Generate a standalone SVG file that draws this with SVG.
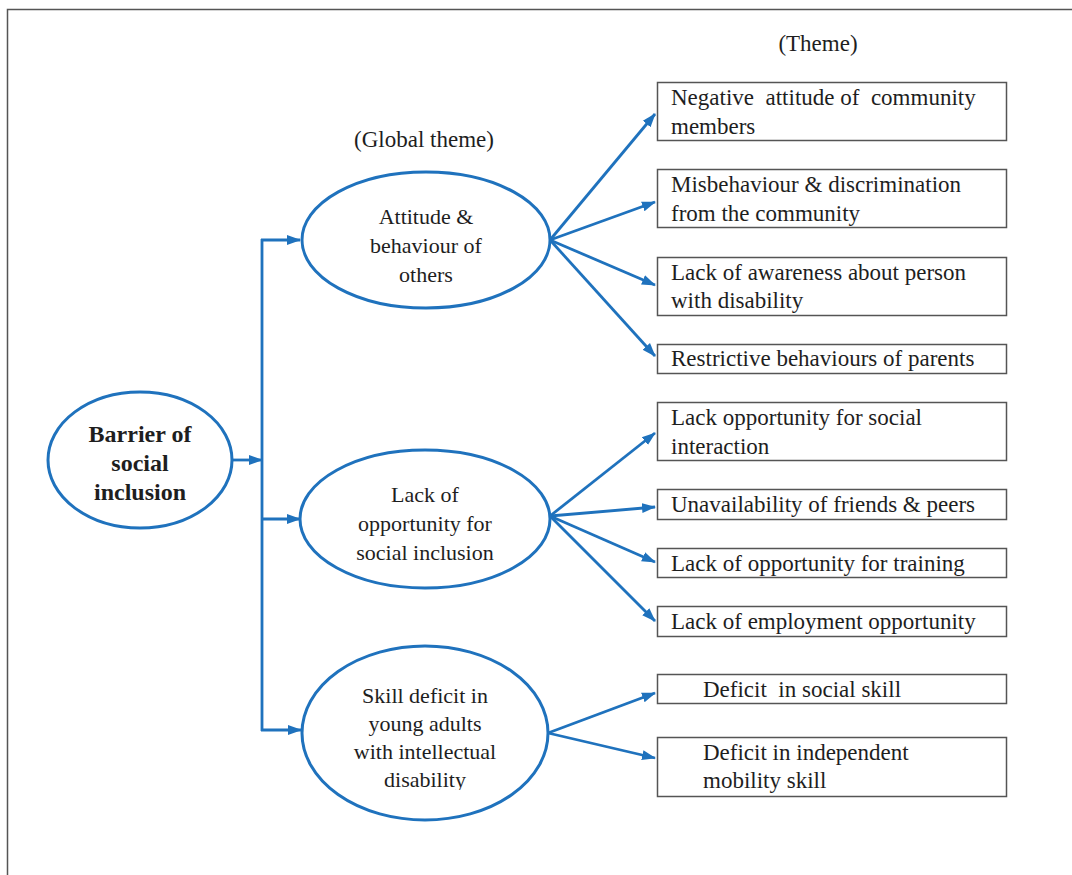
<svg xmlns="http://www.w3.org/2000/svg" width="1072" height="875" viewBox="0 0 1072 875">
<style>
.t{font-family:"Liberation Serif","Times New Roman","DejaVu Serif",serif;font-size:23px;fill:#1e1e1e}
.e{font-size:22px}
.c{text-anchor:middle}
.b{font-weight:bold;font-size:24px}
.ell{fill:#fff;stroke:#1f72bd;stroke-width:3}
.box{fill:#fff;stroke:#555;stroke-width:1.5}
.con{fill:none;stroke:#1f72bd;stroke-width:2.8}
</style>
<defs>
<marker id="ah" markerWidth="14" markerHeight="12" refX="13" refY="6" orient="auto" markerUnits="userSpaceOnUse">
<path d="M0,1 L14,6 L0,11 Z" fill="#1f72bd"/>
</marker>
<clipPath id="clip3"><rect x="300" y="640" width="260" height="150"/></clipPath>
</defs>
<rect x="0" y="0" width="1072" height="875" fill="#fff"/>
<path d="M7.5,875 V9.5 H1072" fill="none" stroke="#555" stroke-width="1.5"/>
<text class="t c" x="818" y="51">(Theme)</text>
<text class="t c" x="424" y="147">(Global theme)</text>
<g id="connectors">
<line class="con" x1="232" y1="460" x2="262" y2="460" marker-end="url(#ah)"/>
<line class="con" x1="262" y1="239" x2="262" y2="731"/>
<line class="con" x1="261" y1="240" x2="300" y2="240" marker-end="url(#ah)"/>
<line class="con" x1="261" y1="519" x2="300" y2="519" marker-end="url(#ah)"/>
<line class="con" x1="261" y1="730" x2="301" y2="730" marker-end="url(#ah)"/>
<line class="con" x1="550" y1="240" x2="655" y2="114" marker-end="url(#ah)"/>
<line class="con" x1="550" y1="240" x2="655" y2="202" marker-end="url(#ah)"/>
<line class="con" x1="550" y1="240" x2="655" y2="285" marker-end="url(#ah)"/>
<line class="con" x1="550" y1="240" x2="655" y2="356" marker-end="url(#ah)"/>
<line class="con" x1="550" y1="516" x2="655" y2="433" marker-end="url(#ah)"/>
<line class="con" x1="550" y1="516" x2="655" y2="507" marker-end="url(#ah)"/>
<line class="con" x1="550" y1="516" x2="655" y2="562" marker-end="url(#ah)"/>
<line class="con" x1="550" y1="516" x2="655" y2="621" marker-end="url(#ah)"/>
<line class="con" x1="548" y1="733" x2="655" y2="693" marker-end="url(#ah)"/>
<line class="con" x1="548" y1="733" x2="655" y2="758" marker-end="url(#ah)"/>
</g>
<g id="root">
<ellipse class="ell" cx="140" cy="460" rx="92" ry="68"/>
<text class="t c b" x="140" y="442">Barrier of</text>
<text class="t c b" x="140" y="471">social</text>
<text class="t c b" x="140" y="500">inclusion</text>
</g>
<g id="g1">
<ellipse class="ell" cx="426" cy="240" rx="124" ry="68"/>
<text class="t e c" x="426" y="224">Attitude &amp;</text>
<text class="t e c" x="426" y="253">behaviour of</text>
<text class="t e c" x="426" y="282">others</text>
</g>
<g id="g2">
<ellipse class="ell" cx="425" cy="519" rx="125" ry="69"/>
<text class="t e c" x="425" y="502">Lack of</text>
<text class="t e c" x="425" y="531">opportunity for</text>
<text class="t e c" x="425" y="560">social inclusion</text>
</g>
<g id="g3">
<ellipse class="ell" cx="425" cy="733" rx="123" ry="87"/>
<text class="t e c" x="425" y="703">Skill deficit in</text>
<text class="t e c" x="425" y="731">young adults</text>
<text class="t e c" x="425" y="759">with intellectual</text>
<text class="t e c" x="425" y="787" clip-path="url(#clip3)">disability</text>
</g>
<g id="t1">
<rect class="box" x="657.5" y="82.5" width="349" height="58"/>
<text class="t" x="671" y="105" xml:space="preserve">Negative  attitude of  community</text>
<text class="t" x="671" y="134">members</text>
</g>
<g id="t2">
<rect class="box" x="657.5" y="169.5" width="349" height="58"/>
<text class="t" x="671" y="192">Misbehaviour &amp; discrimination</text>
<text class="t" x="671" y="221">from the community</text>
</g>
<g id="t3">
<rect class="box" x="657.5" y="257.5" width="349" height="58"/>
<text class="t" x="671" y="280">Lack of awareness about person</text>
<text class="t" x="671" y="308">with disability</text>
</g>
<g id="t4">
<rect class="box" x="657.5" y="344.5" width="349" height="29"/>
<text class="t" x="671" y="366">Restrictive behaviours of parents</text>
</g>
<g id="t5">
<rect class="box" x="657.5" y="402.5" width="349" height="58"/>
<text class="t" x="671" y="425">Lack opportunity for social</text>
<text class="t" x="671" y="454">interaction</text>
</g>
<g id="t6">
<rect class="box" x="657.5" y="489.5" width="349" height="30"/>
<text class="t" x="671" y="512">Unavailability of friends &amp; peers</text>
</g>
<g id="t7">
<rect class="box" x="657.5" y="548.5" width="349" height="29"/>
<text class="t" x="671" y="571">Lack of opportunity for training</text>
</g>
<g id="t8">
<rect class="box" x="657.5" y="606.5" width="349" height="30"/>
<text class="t" x="671" y="629">Lack of employment opportunity</text>
</g>
<g id="t9">
<rect class="box" x="657.5" y="674.5" width="349" height="29"/>
<text class="t" x="703" y="697" xml:space="preserve">Deficit  in social skill</text>
</g>
<g id="t10">
<rect class="box" x="657.5" y="737.5" width="349" height="59"/>
<text class="t" x="703" y="760">Deficit in independent</text>
<text class="t" x="703" y="788">mobility skill</text>
</g>
</svg>
